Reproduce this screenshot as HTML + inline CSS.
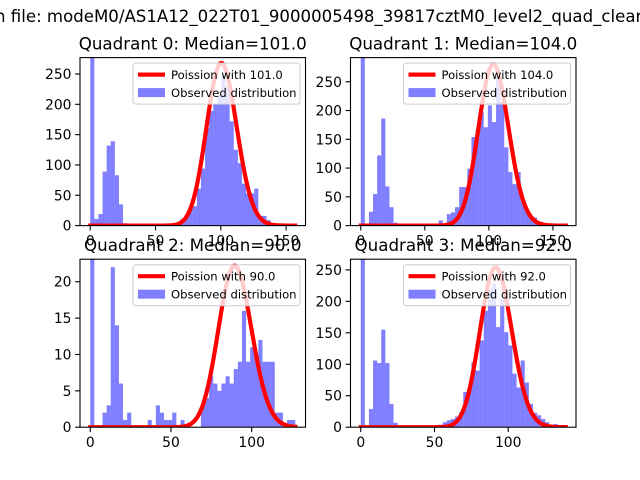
<!DOCTYPE html>
<html><head><meta charset="utf-8"><style>
html,body{margin:0;padding:0;background:#fff;}
svg{display:block;font-family:"DejaVu Sans","Liberation Sans",sans-serif;}
</style></head><body>
<svg id="fig" width="640" height="480" viewBox="0 0 640 480">
<rect width="640" height="480" fill="#fff"/>
<text x="-5" y="22" font-size="16.6" fill="#000">n file: modeM0/AS1A12_022T01_9000005498_39817cztM0_level2_quad_clean.evt</text>
</svg>
<script>
const quadTitles = ["Quadrant 0: Median=101.0","Quadrant 1: Median=104.0","Quadrant 2: Median=90.0","Quadrant 3: Median=92.0"];
const poissonLambda = [101, 104, 90, 92];
const poissonPeak = [268, 280, 22.2, 254];
const curveSpread = [1.15, 1.15, 1.08, 1.12];
const histMax = [157, 160, 127, 139];
const yMaxes = [277, 292, 23.1, 267];
const xTicks0 = [0, 50, 100, 150];
const xTicks1 = [0, 50, 100, 150];
const xTicks2 = [0, 50, 100];
const xTicks3 = [0, 50, 100];
const yTicks0 = [0, 50, 100, 150, 200, 250];
const yTicks1 = [0, 50, 100, 150, 200, 250];
const yTicks2 = [0, 5, 10, 15, 20];
const yTicks3 = [0, 50, 100, 150, 200, 250];
const counts0 = [600,11,19,89,132,139,83,35,4,0,0,0,0,0,0,0,0,0,0,0,0,5,11,17,30,32,61,94,161,189,200,214,250,230,172,125,103,69,53,53,61,16,16,9,4,2,2,1,1,1];
const counts1 = [600,0,24,55,122,186,68,32,5,0,0,0,0,0,0,0,0,0,0,9,0,20,23,32,67,67,99,154,165,197,171,209,180,261,215,136,93,72,93,43,26,17,14,6,5,3,3,2,1,1];
const counts2 = [60,0,0,2,3,22,14,6,1,2,0,0,0,0,1,0,3,2,1,1,2,0,1,0,0,0,0,3,4,7,6,5,6,7,6,8,9,16,9,11,10,12,9,9,9,2,2,0,1,1];
const counts3 = [600,0,29,106,102,155,102,37,7,0,0,0,0,0,0,0,0,0,0,4,8,11,13,17,24,56,61,103,90,138,185,220,228,159,204,151,130,85,63,106,71,37,23,19,13,8,3,5,3,0];
const panelCounts = [counts0, counts1, counts2, counts3];
const panelXTicks = [xTicks0, xTicks1, xTicks2, xTicks3];
const panelYTicks = [yTicks0, yTicks1, yTicks2, yTicks3];

const NS = "http://www.w3.org/2000/svg";
const svg = document.getElementById('fig');
function mk(tag, attrs, parent){
  const e = document.createElementNS(NS, tag);
  for (const k in attrs) e.setAttribute(k, attrs[k]);
  (parent||svg).appendChild(e);
  return e;
}
const W = 225.5, H = 168;
const lefts = [80, 350.5, 80, 350.5];
const tops = [57.6, 57.6, 259.2, 259.2];

function logGamma(z){
  const g = 7, c = [0.99999999999980993,676.5203681218851,-1259.1392167224028,771.32342877765313,-176.61502916214059,12.507343278686905,-0.13857109526572012,9.9843695780195716e-6,1.5056327351493116e-7];
  if (z < 0.5) return Math.log(Math.PI/Math.sin(Math.PI*z)) - logGamma(1-z);
  z -= 1; let x = c[0];
  for (let i=1;i<g+2;i++) x += c[i]/(z+i);
  const t = z+g+0.5;
  return 0.5*Math.log(2*Math.PI) + (z+0.5)*Math.log(t) - t + Math.log(x);
}
function logPmf(k, lam){ return k*Math.log(lam) - lam - logGamma(k+1); }

for (let p=0; p<4; p++){
  const L = lefts[p], T = tops[p];
  const counts = panelCounts[p];
  const mx = histMax[p];
  const x0 = -0.05*mx, x1 = 1.05*mx;
  const ymax = yMaxes[p];
  const xs = v => L + (v - x0)/(x1 - x0)*W;
  const ys = v => T + H - v/ymax*H;
  const g = mk('g', {});
  
  
  const cp = mk('clipPath', {id:'clip'+p}, g);
  mk('rect', {x:L, y:T, width:W, height:H}, cp);
  const plot = mk('g', {'clip-path':'url(#clip'+p+')'}, g);
  const bw = mx / counts.length;
  counts.forEach((c, i) => {
    if (c <= 0) return;
    const xa = xs(i*bw), xb = xs((i+1)*bw);
    const r = mk('rect', {x:xa, y:ys(c), width:xb-xa, height:ys(0)-ys(c), fill:'#0000ff', 'fill-opacity':0.5}, plot);
    
    
  });
  const lam = poissonLambda[p];
  const s = curveSpread[p];
  const ref = logPmf(lam, lam);
  let d = '';
  for (let k=0; k<=Math.floor(mx); k++){
    const kk = Math.max(0, lam + (k - lam)/s);
    const v = poissonPeak[p]*Math.exp(logPmf(kk, lam) - ref);
    d += (k===0?'M':'L') + xs(k).toFixed(2) + ',' + ys(v).toFixed(2);
  }
  const line = mk('path', {d:d, fill:'none', stroke:'#ff0000', 'stroke-width':4.2, 'stroke-linejoin':'round', 'stroke-linecap':'square'}, plot);
  
  
  mk('rect', {x:L, y:T, width:W, height:H, fill:'none', stroke:'#000', 'stroke-width':1.1}, g);
  panelXTicks[p].forEach(t => {
    const x = xs(t);
    mk('line', {x1:x, x2:x, y1:T+H, y2:T+H+4.9, stroke:'#000', 'stroke-width':1.1}, g);
    const tx = mk('text', {x:x, y:T+H+20, 'font-size':13.9, 'text-anchor':'middle'}, g);
    tx.textContent = t;
    
    
  });
  panelYTicks[p].forEach(t => {
    const y = ys(t);
    mk('line', {x1:L-4.9, x2:L, y1:y, y2:y, stroke:'#000', 'stroke-width':1.1}, g);
    const ty = mk('text', {x:L-8.5, y:y+5, 'font-size':13.9, 'text-anchor':'end'}, g);
    ty.textContent = t;
    
    
  });
  const lg = mk('g', {}, g);
  
  
  const lx = L + W - 5.5 - 167, ly = T + 5.5;
  mk('rect', {x:lx, y:ly, width:167, height:41, rx:3, fill:'#fff', 'fill-opacity':0.8, stroke:'#cccccc', 'stroke-width':1}, lg);
  mk('line', {x1:lx+5, x2:lx+32, y1:ly+11.5, y2:ly+11.5, stroke:'#ff0000', 'stroke-width':4.2}, lg);
  const t1 = mk('text', {x:lx+38, y:ly+16, 'font-size':11.6}, lg);
  t1.textContent = 'Poission with ' + lam.toFixed(1);
  
  
  mk('rect', {x:lx+5, y:ly+25, width:27, height:9, fill:'#0000ff', 'fill-opacity':0.5}, lg);
  const t2 = mk('text', {x:lx+38, y:ly+34, 'font-size':11.6}, lg);
  t2.textContent = 'Observed distribution';
  
  
  const tt = mk('text', {x:L+W/2, y:T-8, 'font-size':16.7, 'text-anchor':'middle'}, g);
  tt.textContent = quadTitles[p];
  
  
}
</script>
</body></html>
